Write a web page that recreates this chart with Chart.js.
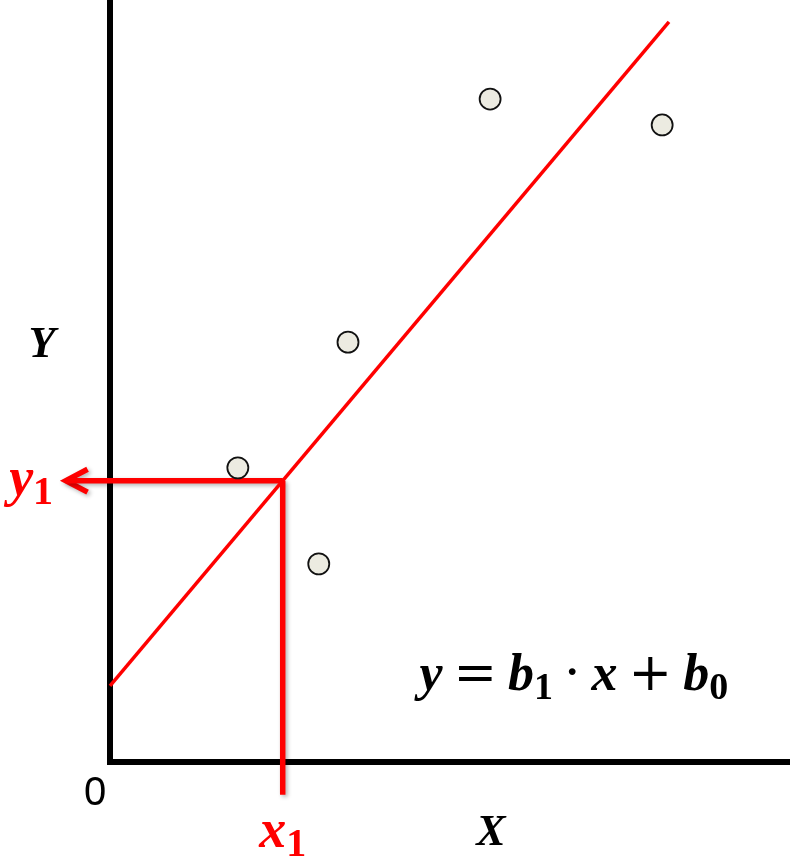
<!DOCTYPE html>
<html>
<head>
<meta charset="utf-8">
<script src="https://cdn.jsdelivr.net/npm/chart.js@4.4.1/dist/chart.umd.min.js"></script>
<style>
  html, body { margin: 0; padding: 0; background: #fff; overflow: hidden; }
  #wrap { width: 800px; height: 868px; position: relative; }
</style>
</head>
<body>
<div id="wrap"><canvas id="regressionChart"></canvas></div>
<script>
// observed points
const pointX = [1.88, 3.07, 3.50, 5.59, 8.12];
const pointY = [3.86, 2.60, 5.51, 8.70, 8.36];

// fitted line y = b1 * x + b0
const b0 = 1.0;
const b1 = 1.06;
const lineX = [0, 8.22];

// chosen x1 and where its guides end
const x1 = 2.54;
const guideBottom = -0.43;
const arrowTip = -0.65;

// axes
const axisTop = 10;
const axisRight = 10;

const lineY = lineX.map(x => b0 + b1 * x);
const y1 = b0 + b1 * x1;

const toPts = (xs, ys) => xs.map((x, i) => ({ x: x, y: ys[i] }));

const redGuides = ['guideV', 'guideH', 'arrow'];

const labelsPlugin = {
    id: 'labels',
    beforeDatasetDraw(chart, args) {
        if (redGuides.includes(args.meta._dataset.id)) {
            const ctx = chart.ctx;
            ctx.save();
            ctx.shadowColor = 'rgba(0,0,0,0.3)';
            ctx.shadowBlur = 4;
            ctx.shadowOffsetX = 2;
            ctx.shadowOffsetY = 2;
        }
    },
    afterDatasetDraw(chart, args) {
        if (redGuides.includes(args.meta._dataset.id)) chart.ctx.restore();
    },
    afterDatasetsDraw(chart) {
        const ctx = chart.ctx;
        const xs = chart.scales.x, ys = chart.scales.y;
        const px = v => xs.getPixelForValue(v);
        const py = v => ys.getPixelForValue(v);

        // pieces: [text, kind] ; kind: undefined = italic var, 'sub' = subscript, 'op' = operator
        const drawMath = (pieces, cx, base, size, color, opGap) => {
            ctx.save();
            ctx.fillStyle = color;
            ctx.textBaseline = 'alphabetic';
            ctx.textAlign = 'left';
            const mainFont = `italic bold ${size}px "Liberation Serif", serif`;
            const subFont = `bold ${Math.round(size * 0.74)}px "Liberation Serif", serif`;
            const opFont = `${size}px "DejaVu Serif", serif`;
            const fontFor = p => p[1] === 'sub' ? subFont : (p[1] === 'op' ? opFont : mainFont);
            const widthOf = p => {
                ctx.font = fontFor(p);
                return ctx.measureText(p[0]).width + (p[1] === 'op' ? 2 * opGap : 0);
            };
            let total = 0;
            pieces.forEach(p => { total += widthOf(p); });
            let x = cx - total / 2;
            pieces.forEach(p => {
                const w = widthOf(p);
                ctx.font = fontFor(p);
                const dy = p[1] === 'sub' ? size * 0.17 : 0;
                ctx.fillText(p[0], x + (p[1] === 'op' ? opGap : 0), base + dy);
                x += w;
            });
            ctx.restore();
        };

        drawMath([['Y']], px(-1.0), py(5.31), 44, '#000', 0);
        drawMath([['X']], px(5.6), py(-1.09), 44, '#000', 0);
        drawMath([['y'], ['1', 'sub']], px(-1.16), py(3.50), 54, '#f00', 0);
        drawMath([['x'], ['1', 'sub']], px(x1), py(-1.115), 54, '#f00', 0);
        drawMath([['y'], ['=', 'op'], ['b'], ['1', 'sub'], ['\u00b7', 'op'], ['x'], ['+', 'op'], ['b'], ['0', 'sub']],
            px(6.82), py(0.945), 52, '#000', 11);

        ctx.save();
        ctx.fillStyle = '#000';
        ctx.font = '40px "Liberation Sans", sans-serif';
        ctx.textAlign = 'center';
        ctx.textBaseline = 'alphabetic';
        ctx.fillText('0', px(-0.22), py(-0.56));
        ctx.restore();
    }
};

new Chart(document.getElementById('regressionChart'), {
    type: 'scatter',
    data: {
        datasets: [
            {
                id: 'points',
                data: toPts(pointX, pointY),
                pointRadius: 10.5,
                backgroundColor: '#ecebe1',
                borderColor: '#111',
                borderWidth: 1.8,
                order: 0,
            },
            {
                id: 'guideV',
                data: [{ x: x1, y: y1 }, { x: x1, y: guideBottom }],
                showLine: true,
                borderColor: '#ff0000',
                borderWidth: 5.5,
                pointRadius: 0,
                order: 2,
            },
            {
                id: 'guideH',
                data: [{ x: x1, y: y1 }, { x: arrowTip, y: y1 }],
                showLine: true,
                borderColor: '#ff0000',
                borderWidth: 5.5,
                pointRadius: 0,
                order: 2,
            },
            {
                id: 'arrow',
                data: [
                    { x: arrowTip + 0.32, y: y1 + 0.15 },
                    { x: arrowTip, y: y1 },
                    { x: arrowTip + 0.32, y: y1 - 0.15 }
                ],
                showLine: true,
                borderColor: '#ff0000',
                borderWidth: 5.5,
                borderJoinStyle: 'miter',
                pointRadius: 0,
                order: 2,
            },
            {
                id: 'fit',
                data: toPts(lineX, lineY),
                showLine: true,
                borderColor: '#ff0000',
                borderWidth: 3.5,
                pointRadius: 0,
                order: 1,
            },
            {
                id: 'axes',
                data: [{ x: 0, y: axisTop }, { x: 0, y: 0 }, { x: axisRight, y: 0 }],
                showLine: true,
                borderColor: '#000',
                borderWidth: 6,
                borderJoinStyle: 'miter',
                pointRadius: 0,
                order: 3,
            }
        ]
    },
    options: {
        responsive: true,
        maintainAspectRatio: false,
        animation: false,
        events: [],
        layout: { padding: 0, autoPadding: false },
        scales: {
            x: { type: 'linear', display: false, min: -110 / 68, max: 690 / 68 },
            y: { type: 'linear', display: false, min: -106 / 76.2, max: 10 }
        },
        plugins: {
            legend: { display: false },
            tooltip: { enabled: false }
        },
        elements: { line: { tension: 0 } },
        datasets: { scatter: { clip: false } }
    },
    plugins: [labelsPlugin]
});
</script>
</body>
</html>
